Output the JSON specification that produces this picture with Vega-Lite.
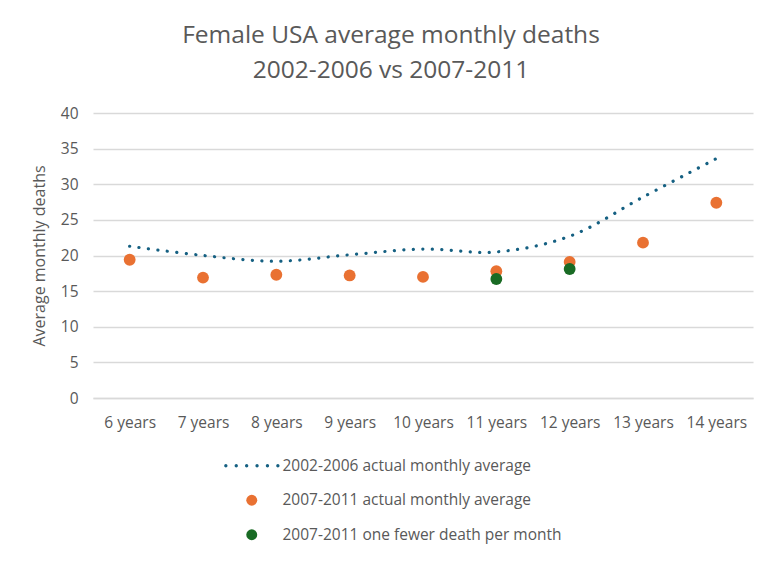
{
  "$schema": "https://vega.github.io/schema/vega-lite/v6.json",
  "width": 660,
  "height": 285,
  "autosize": "none",
  "padding": {"left": 93, "top": 113, "right": 29, "bottom": 164},
  "background": "white",
  "config": {
    "font": "Open Sans",
    "view": {"stroke": null}
  },
  "title": {
    "text": ["Female USA average monthly deaths", "2002-2006 vs 2007-2011"],
    "fontSize": 24.5,
    "fontWeight": "normal",
    "color": "#595959",
    "anchor": "middle",
    "dx": -32,
    "offset": 23,
    "lineHeight": 35
  },
  "data": {
    "values": [
      {"age": "6 years", "series": "2002-2006 actual monthly average", "value": 21.3},
      {"age": "7 years", "series": "2002-2006 actual monthly average", "value": 20.0},
      {"age": "8 years", "series": "2002-2006 actual monthly average", "value": 19.2},
      {"age": "9 years", "series": "2002-2006 actual monthly average", "value": 20.1},
      {"age": "10 years", "series": "2002-2006 actual monthly average", "value": 20.9},
      {"age": "11 years", "series": "2002-2006 actual monthly average", "value": 20.5},
      {"age": "12 years", "series": "2002-2006 actual monthly average", "value": 22.7},
      {"age": "13 years", "series": "2002-2006 actual monthly average", "value": 28.2},
      {"age": "14 years", "series": "2002-2006 actual monthly average", "value": 33.6},
      {"age": "6 years", "series": "2007-2011 actual monthly average", "value": 19.4},
      {"age": "7 years", "series": "2007-2011 actual monthly average", "value": 16.9},
      {"age": "8 years", "series": "2007-2011 actual monthly average", "value": 17.3},
      {"age": "9 years", "series": "2007-2011 actual monthly average", "value": 17.2},
      {"age": "10 years", "series": "2007-2011 actual monthly average", "value": 17.0},
      {"age": "11 years", "series": "2007-2011 actual monthly average", "value": 17.8},
      {"age": "12 years", "series": "2007-2011 actual monthly average", "value": 19.1},
      {"age": "13 years", "series": "2007-2011 actual monthly average", "value": 21.8},
      {"age": "14 years", "series": "2007-2011 actual monthly average", "value": 27.4},
      {"age": "11 years", "series": "2007-2011 one fewer death per month", "value": 16.7},
      {"age": "12 years", "series": "2007-2011 one fewer death per month", "value": 18.1}
    ]
  },
  "encoding": {
    "x": {
      "field": "age",
      "type": "nominal",
      "sort": ["6 years", "7 years", "8 years", "9 years", "10 years", "11 years", "12 years", "13 years", "14 years"],
      "scale": {"paddingInner": 0, "paddingOuter": 0},
      "axis": {
        "title": null,
        "labelAngle": 0,
        "labelFontSize": 15.5,
        "labelColor": "#595959",
        "labelPadding": 17,
        "ticks": false,
        "domain": true,
        "domainColor": "#D9D9D9",
        "domainWidth": 1.3,
        "grid": false
      }
    },
    "y": {
      "field": "value",
      "type": "quantitative",
      "scale": {"domain": [0, 40], "nice": false, "zero": true},
      "axis": {
        "title": "Average monthly deaths",
        "titleFontSize": 16,
        "titleFontWeight": "normal",
        "titleColor": "#595959",
        "titlePadding": 13,
        "values": [0, 5, 10, 15, 20, 25, 30, 35, 40],
        "labelFontSize": 15.5,
        "labelColor": "#595959",
        "labelPadding": 15,
        "ticks": false,
        "domain": false,
        "grid": true,
        "gridColor": "#D9D9D9",
        "gridWidth": 1.3
      }
    }
  },
  "layer": [
    {
      "transform": [{"filter": "datum.series === '2002-2006 actual monthly average'"}],
      "mark": {
        "type": "line",
        "interpolate": "catmull-rom",
        "strokeWidth": 3.2,
        "strokeCap": "round",
        "strokeDash": [0.1, 9.4],
        "color": "#156082"
      }
    },
    {
      "transform": [{"filter": "datum.series !== '2002-2006 actual monthly average'"}],
      "mark": {"type": "point", "filled": true, "opacity": 1, "size": 140},
      "encoding": {
        "color": {
          "field": "series",
          "type": "nominal",
          "scale": {
            "domain": ["2002-2006 actual monthly average", "2007-2011 actual monthly average", "2007-2011 one fewer death per month"],
            "range": ["#156082", "#E97132", "#196B24"]
          },
          "legend": {
            "title": null,
            "orient": "none",
            "legendX": 151,
            "legendY": 345,
            "direction": "vertical",
            "labelFontSize": 15.5,
            "labelColor": "#595959",
            "labelOffset": 23,
            "labelLimit": 0,
            "rowPadding": 16.5,
            "symbolSize": 120,
            "symbolOpacity": 1
          }
        },
        "shape": {
          "field": "series",
          "type": "nominal",
          "scale": {
            "domain": ["2002-2006 actual monthly average", "2007-2011 actual monthly average", "2007-2011 one fewer death per month"],
            "range": ["M-5.03,0a0.3,0.3 0 1,0 0.6,0a0.3,0.3 0 1,0 -0.6,0ZM-3.13,0a0.3,0.3 0 1,0 0.6,0a0.3,0.3 0 1,0 -0.6,0ZM-1.23,0a0.3,0.3 0 1,0 0.6,0a0.3,0.3 0 1,0 -0.6,0ZM0.67,0a0.3,0.3 0 1,0 0.6,0a0.3,0.3 0 1,0 -0.6,0ZM2.57,0a0.3,0.3 0 1,0 0.6,0a0.3,0.3 0 1,0 -0.6,0ZM4.47,0a0.3,0.3 0 1,0 0.6,0a0.3,0.3 0 1,0 -0.6,0Z", "circle", "circle"]
          },
          "legend": {
            "title": null,
            "orient": "none",
            "legendX": 151,
            "legendY": 345,
            "direction": "vertical",
            "labelFontSize": 15.5,
            "labelColor": "#595959",
            "labelOffset": 23,
            "labelLimit": 0,
            "rowPadding": 16.5,
            "symbolSize": 120,
            "symbolOpacity": 1
          }
        }
      }
    }
  ]
}
